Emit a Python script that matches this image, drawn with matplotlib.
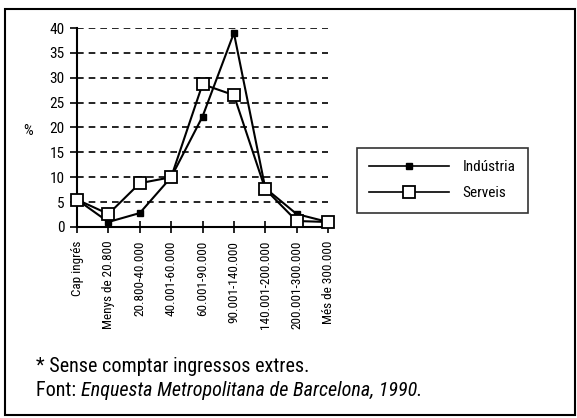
import matplotlib
matplotlib.use("Agg")
import matplotlib.pyplot as plt
from matplotlib.patches import Rectangle

plt.rcParams['font.family'] = ['Roboto Condensed', 'DejaVu Sans']

categories = ["Cap ingrés", "Menys de 20.800", "20.800-40.000", "40.001-60.000",
              "60.001-90.000", "90.001-140.000", "140.001-200.000",
              "200.001-300.000", "Més de 300.000"]
industria = [5.5, 1.0, 2.8, 10.0, 22.2, 39.0, 7.8, 2.6, 1.0]
serveis = [5.5, 2.6, 8.8, 10.0, 28.7, 26.5, 7.6, 1.2, 1.0]
yticks = [0, 5, 10, 15, 20, 25, 30, 35, 40]

fig = plt.figure(figsize=(5.77, 4.18), dpi=100)
fig.patches.append(Rectangle((0.009, 0.006), 0.987, 0.972, transform=fig.transFigure,
                             fill=False, edgecolor='black', linewidth=1.5))

ax = fig.add_axes([0.1335, 0.457, 0.435, 0.476])
x = list(range(len(categories)))
l1, = ax.plot(x, industria, color='black', linewidth=1.5, marker='s', markersize=5,
              markerfacecolor='black', markeredgecolor='black', label='Indústria', zorder=4, clip_on=False)
l2, = ax.plot(x, serveis, color='black', linewidth=1.5, marker='s', markersize=9,
              markerfacecolor='white', markeredgecolor='black', markeredgewidth=1.3,
              label='Serveis', zorder=5, clip_on=False)

ax.set_xlim(0, len(categories) - 1)
ax.set_ylim(0, 40)
ax.set_yticks(yticks)
ax.set_yticklabels([str(v) for v in yticks], fontsize=11)
ax.set_xticks(x)
ax.set_xticklabels(categories, rotation=90, fontsize=9.5)
for v in yticks[1:]:
    ax.axhline(v, color='black', linestyle=(0, (4, 3)), linewidth=1.2, zorder=1)

for s in ['top', 'right']:
    ax.spines[s].set_visible(False)
ax.spines['left'].set_linewidth(1.5)
ax.spines['bottom'].set_linewidth(1.5)
ax.tick_params(axis='x', direction='inout', length=8, width=1.2, pad=6)
ax.tick_params(axis='y', direction='out', length=5, width=1.2, pad=4)

ax.text(-0.195, 0.482, '%', transform=ax.transAxes, fontsize=11, ha='center', va='center')

leg = fig.legend(handles=[l1, l2], loc='upper left', bbox_to_anchor=(0.619, 0.646),
                 fontsize=11, frameon=True, fancybox=False, handlelength=5.2,
                 borderpad=0.8, labelspacing=0.8, handletextpad=0.9, borderaxespad=0)
leg.get_frame().set_edgecolor('black')
leg.get_frame().set_linewidth(1.2)
for h in leg.legend_handles:
    h.set_linewidth(1.2)
leg.legend_handles[1].set_markersize(8)

fs = 14.5
fig.text(0.062, 0.124, '* Sense comptar ingressos extres.', fontsize=fs, ha='left', va='center')
t = fig.text(0.062, 0.065, 'Font: ', fontsize=fs, ha='left', va='center')
fig.canvas.draw()
bb = t.get_window_extent()
x1 = fig.transFigure.inverted().transform((bb.x1, bb.y0))[0]
fig.text(x1, 0.065, 'Enquesta Metropolitana de Barcelona, 1990.', fontsize=fs,
         ha='left', va='center', style='italic')

fig.savefig('out.png', dpi=100)
